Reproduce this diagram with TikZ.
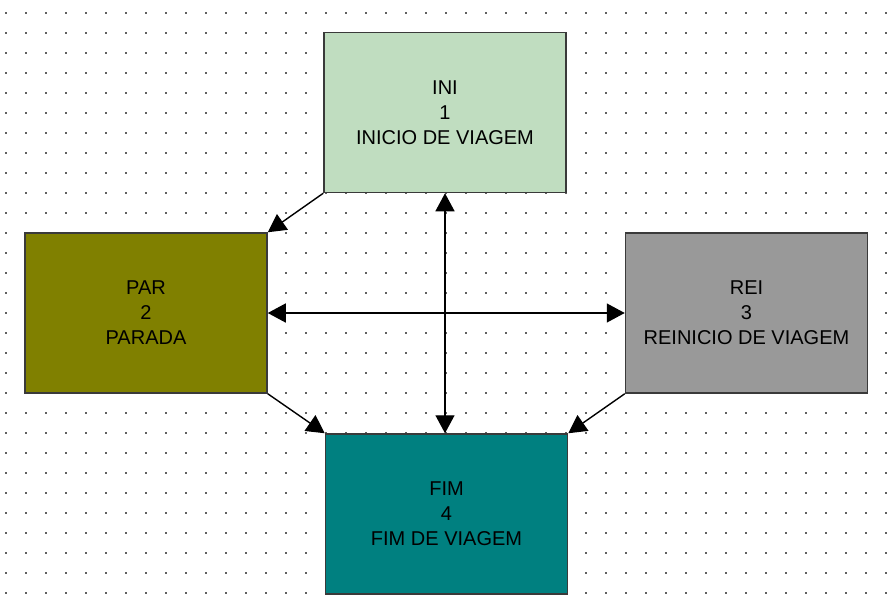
\documentclass[tikz,border=0pt]{standalone}
\usepackage{fontspec}
\setmainfont{Liberation Sans}
\usetikzlibrary{arrows.meta}
\definecolor{inigreen}{HTML}{C0DDC0}
\definecolor{parolive}{HTML}{808000}
\definecolor{reigrey}{HTML}{999999}
\definecolor{fimteal}{HTML}{008080}
\definecolor{bordergrey}{HTML}{3A3A3A}
\definecolor{dotgrey}{HTML}{606060}
\tikzset{
  statebox/.style={draw=bordergrey, line width=1.5pt, minimum width=242pt, minimum height=160pt,
    align=center, inner sep=0pt, text=black, font=\fontsize{20}{25}\selectfont},
  conn/.style={line width=1.4pt, draw=black, -{Triangle[length=18pt,width=19pt]}},
  dconn/.style={line width=1.4pt, draw=black, {Triangle[length=18pt,width=19pt]}-{Triangle[length=18pt,width=19pt]}},
  griddot/.style={fill=dotgrey, draw=none}
}
\begin{document}
\begin{tikzpicture}[x=1pt,y=-1pt]
\useasboundingbox (0,0) rectangle (891,611);
\fill[white] (0,0) rectangle (891,611);
\foreach \i in {0,...,44} {
  \foreach \j in {0,...,29} {
    \fill[griddot] ({6+20*\i-0.9},{13+20*\j-0.9}) rectangle ++(1.8,1.8);
  }
}
\node[statebox, fill=inigreen] (ini) at (445,112.5) {INI\\1\\INICIO DE VIAGEM};
\node[statebox, fill=parolive] (par) at (146,313) {PAR\\2\\PARADA};
\node[statebox, fill=reigrey] (rei) at (746.5,313) {REI\\3\\REINICIO DE VIAGEM};
\node[statebox, fill=fimteal] (fim) at (446.5,514) {FIM\\4\\FIM DE VIAGEM};
\draw[conn] (ini.south west) -- (par.north east);
\draw[conn] (par.south east) -- (fim.north west);
\draw[conn] (rei.south west) -- (fim.north east);
\draw[dconn] (ini.south) -- (ini.south |- fim.north);
\draw[dconn] (par.east) -- (rei.west);
\end{tikzpicture}
\end{document}
